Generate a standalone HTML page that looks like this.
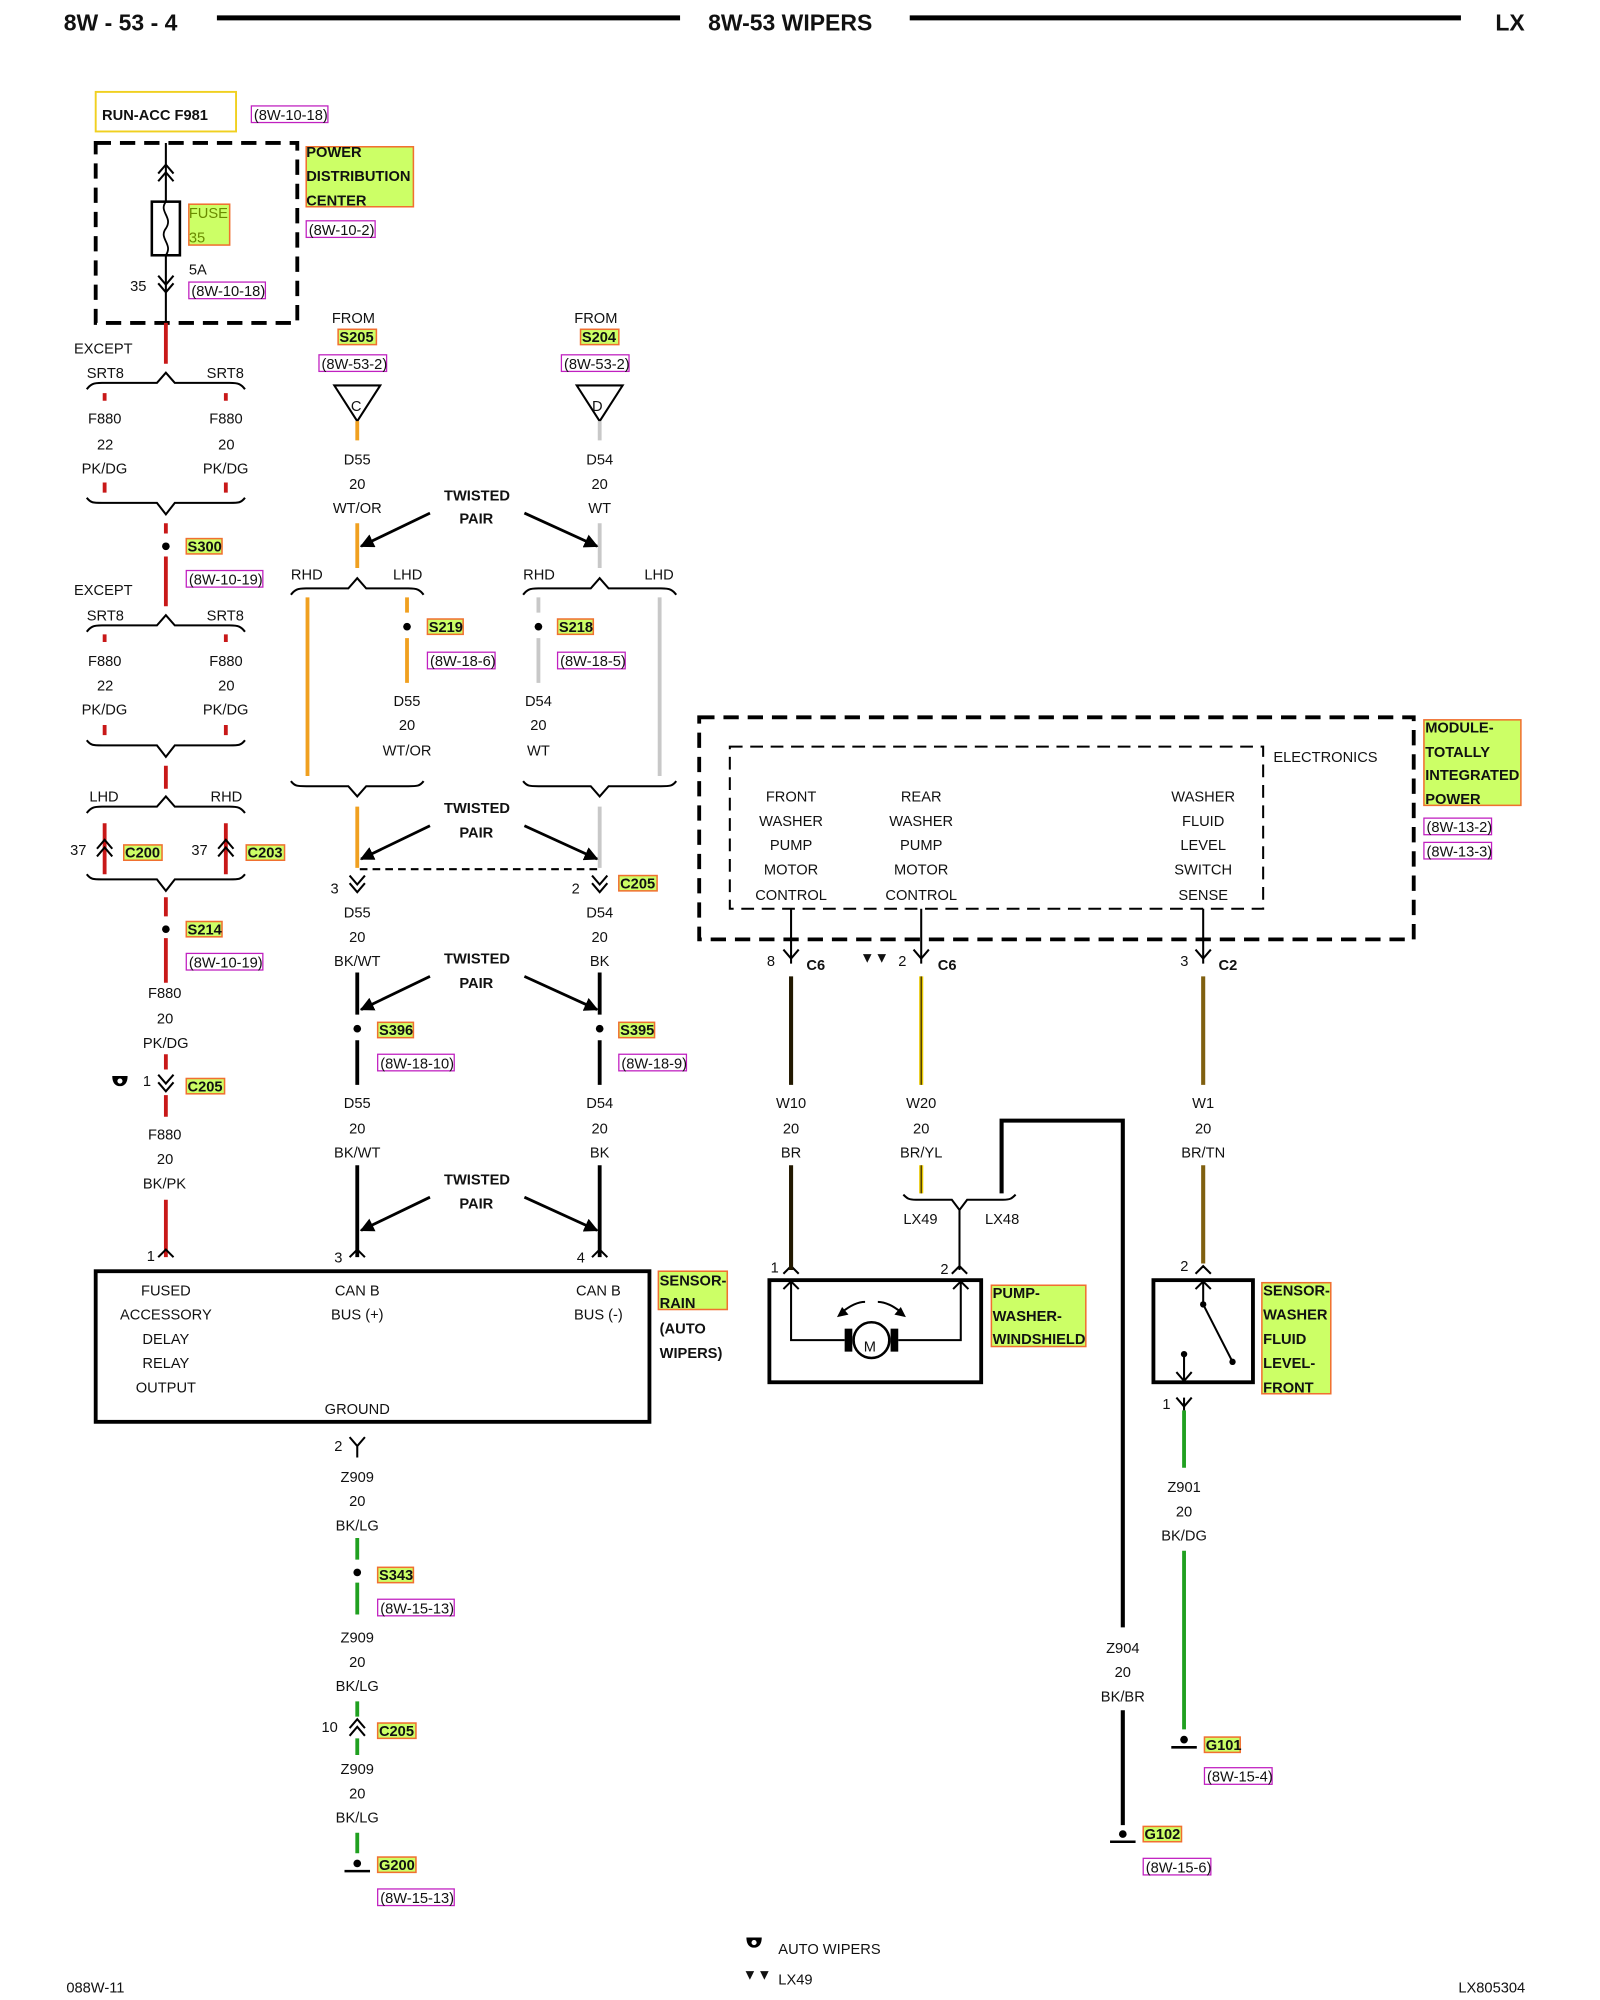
<!DOCTYPE html>
<html><head><meta charset="utf-8"><style>
html,body{margin:0;padding:0;background:#fff}
svg{display:block}
text{font-family:"Liberation Sans",sans-serif;font-size:11.5px;fill:#111}
.b{font-weight:bold}
.h{font-weight:bold;font-size:18px}
.r{font-size:11px;fill:#1a1a9a}
.k{stroke:#000;fill:none;stroke-width:1.6}
</style></head><body>
<svg width="1600" height="2000" viewBox="0 0 1254 1567" preserveAspectRatio="none" xmlns="http://www.w3.org/2000/svg">
<defs>
<marker id="ar" viewBox="0 0 10 10" refX="9" refY="5" markerWidth="5" markerHeight="5" orient="auto"><path d="M0,0L10,5L0,10z" fill="#000"/></marker>
</defs>
<text x="50" y="24" class="h">8W - 53 - 4</text>
<line x1="170" y1="14" x2="533" y2="14" stroke="#000" stroke-width="4"/>
<text x="555" y="24" class="h">8W-53 WIPERS</text>
<line x1="713" y1="14" x2="1145" y2="14" stroke="#000" stroke-width="4"/>
<text x="1172" y="24" class="h">LX</text>

<g fill="#ccff66" stroke="#f07030" stroke-width="1.2">
<rect x="148" y="160" width="32" height="32"/>
<rect x="240" y="115" width="84" height="47"/>
<rect x="265" y="258" width="30" height="12"/>
<rect x="455" y="258" width="30" height="12"/>
<rect x="146" y="422" width="28" height="12"/>
<rect x="335" y="485" width="28" height="12"/>
<rect x="437" y="485" width="28" height="12"/>
<rect x="97" y="662" width="30" height="12"/>
<rect x="193" y="662" width="30" height="12"/>
<rect x="146" y="722" width="28" height="12"/>
<rect x="485" y="686" width="30" height="12"/>
<rect x="296" y="801" width="28" height="12"/>
<rect x="485" y="801" width="28" height="12"/>
<rect x="146" y="845" width="30" height="12"/>
<rect x="516" y="996" width="54" height="30"/>
<rect x="296" y="1228" width="28" height="12"/>
<rect x="296" y="1350" width="30" height="12"/>
<rect x="296" y="1455" width="30" height="12"/>
<rect x="1116" y="564" width="76" height="67"/>
<rect x="777" y="1007" width="74" height="48"/>
<rect x="989" y="1005" width="54" height="87"/>
<rect x="944" y="1361" width="28" height="12"/>
<rect x="896" y="1431" width="30" height="12"/>
</g>
<g fill="none" stroke="#c020c0" stroke-width="1">
<rect x="197" y="83" width="60" height="13"/>
<rect x="240" y="173" width="54" height="13"/>
<rect x="148" y="221" width="60" height="13"/>
<rect x="250" y="278" width="53" height="13"/>
<rect x="440" y="278" width="53" height="13"/>
<rect x="146" y="447" width="60" height="13"/>
<rect x="335" y="511" width="53" height="13"/>
<rect x="437" y="511" width="53" height="13"/>
<rect x="146" y="747" width="60" height="13"/>
<rect x="296" y="826" width="60" height="13"/>
<rect x="485" y="826" width="53" height="13"/>
<rect x="296" y="1253" width="60" height="13"/>
<rect x="296" y="1480" width="60" height="13"/>
<rect x="1116" y="641" width="53" height="13"/>
<rect x="1116" y="660" width="53" height="13"/>
<rect x="944" y="1385" width="53" height="13"/>
<rect x="896" y="1456" width="53" height="13"/>
</g>
<g class="r">
<text x="199" y="94">(8W-10-18)</text>
<text x="242" y="184">(8W-10-2)</text>
<text x="150" y="232">(8W-10-18)</text>
<text x="252" y="289">(8W-53-2)</text>
<text x="442" y="289">(8W-53-2)</text>
<text x="148" y="458">(8W-10-19)</text>
<text x="337" y="522">(8W-18-6)</text>
<text x="439" y="522">(8W-18-5)</text>
<text x="148" y="758">(8W-10-19)</text>
<text x="298" y="837">(8W-18-10)</text>
<text x="487" y="837">(8W-18-9)</text>
<text x="298" y="1264">(8W-15-13)</text>
<text x="298" y="1491">(8W-15-13)</text>
<text x="1118" y="652">(8W-13-2)</text>
<text x="1118" y="671">(8W-13-3)</text>
<text x="946" y="1396">(8W-15-4)</text>
<text x="898" y="1467">(8W-15-6)</text>
</g>
<g class="b" font-size="11">
<text x="148" y="171" style="font-weight:normal;fill:#6a8a00">FUSE</text>
<text x="148" y="190" style="font-weight:normal;fill:#6a8a00">35</text>
<text x="240" y="123">POWER</text><text x="240" y="142">DISTRIBUTION</text><text x="240" y="161">CENTER</text>
<text x="266" y="268">S205</text><text x="456" y="268">S204</text>
<text x="147" y="432">S300</text><text x="336" y="495">S219</text><text x="438" y="495">S218</text>
<text x="98" y="672">C200</text><text x="194" y="672">C203</text><text x="147" y="732">S214</text>
<text x="486" y="696">C205</text><text x="297" y="811">S396</text><text x="486" y="811">S395</text>
<text x="147" y="855">C205</text>
<text x="517" y="1007">SENSOR-</text><text x="517" y="1025">RAIN</text>
<text x="517" y="1045">(AUTO</text><text x="517" y="1064">WIPERS)</text>
<text x="297" y="1238">S343</text><text x="297" y="1360">C205</text><text x="297" y="1465">G200</text>
<text x="1117" y="574">MODULE-</text><text x="1117" y="593">TOTALLY</text><text x="1117" y="611">INTEGRATED</text><text x="1117" y="630">POWER</text>
<text x="778" y="1017">PUMP-</text><text x="778" y="1035">WASHER-</text><text x="778" y="1053">WINDSHIELD</text>
<text x="990" y="1015">SENSOR-</text><text x="990" y="1034">WASHER</text><text x="990" y="1053">FLUID</text><text x="990" y="1072">LEVEL-</text><text x="990" y="1091">FRONT</text>
<text x="945" y="1371">G101</text><text x="897" y="1441">G102</text>
<text x="348" y="392">TWISTED</text><text x="360" y="410">PAIR</text>
<text x="348" y="637">TWISTED</text><text x="360" y="656">PAIR</text>
<text x="348" y="755">TWISTED</text><text x="360" y="774">PAIR</text>
<text x="348" y="928">TWISTED</text><text x="360" y="947">PAIR</text>
<text x="80" y="94">RUN-ACC F981</text>
</g>
<rect x="75" y="72" width="110" height="31" fill="none" stroke="#f0d020" stroke-width="1.5"/>
<rect x="75" y="112" width="158" height="141" fill="none" stroke="#000" stroke-width="3" stroke-dasharray="12,7"/>
<rect x="548" y="562" width="560" height="174" fill="none" stroke="#000" stroke-width="3" stroke-dasharray="12,7"/>
<rect x="572" y="585" width="418" height="127" fill="none" stroke="#000" stroke-width="1.6" stroke-dasharray="10,6"/>

<g stroke-width="3" fill="none">
<line x1="130" y1="112" x2="130" y2="253" stroke="#000" stroke-width="1.6"/>
<path d="M130,253V285M130,410V418M130,436V475M130,600V618M130,703V718M130,735V770M130,826V838M130,858V875M130,940V985" stroke="#c81818"/>
<path d="M82,308V314M177,308V314M82,378V386M177,378V386M82,497V503M177,497V503M82,568V576M177,568V576M82,645V685M177,645V685" stroke="#c81818"/>
</g>
<rect x="119" y="158" width="22" height="42" fill="#fff" stroke="#000" stroke-width="2"/>
<path d="M130,158c-6,8 6,12 0,21c-6,8 6,12 0,21" fill="none" stroke="#000" stroke-width="1.4"/>
<g class="k">
<path d="M124,136l6,-7l6,7M124,142l6,-7l6,7"/>
<path d="M124,216l6,7l6,-7M124,222l6,7l6,-7"/>
<path d="M68,305c3,-4 5,-5 12,-5h43l7,-8l7,8h43c7,0 9,1 12,5"/>
<path d="M68,390c3,4 5,4 12,4h43l7,9l7,-9h43c7,0 9,0 12,-4"/>
<path d="M68,495c3,-4 5,-5 12,-5h43l7,-8l7,8h43c7,0 9,1 12,5"/>
<path d="M68,580c3,4 5,4 12,4h43l7,9l7,-9h43c7,0 9,0 12,-4"/>
<path d="M68,637c3,-4 5,-5 12,-5h43l7,-8l7,8h43c7,0 9,1 12,5"/>
<path d="M68,685c3,4 5,4 12,4h43l7,9l7,-9h43c7,0 9,0 12,-4"/>
<path d="M76,665l6,-7l6,7M76,671l6,-7l6,7M171,665l6,-7l6,7M171,671l6,-7l6,7"/>
<path d="M124,842l6,7l6,-7M124,848l6,7l6,-7"/>
<path d="M124,985l6,-6l6,6"/>
</g>
<circle cx="130" cy="428" r="3" fill="#000"/><circle cx="130" cy="728" r="3" fill="#000"/>
<path d="M88,843h12c0,6 -3,8 -6,8s-6,-2 -6,-8z" fill="#000"/><circle cx="94" cy="847" r="2" fill="#fff"/>
<g>
<text x="148" y="215">5A</text><text x="102" y="228">35</text>
<text x="58" y="277">EXCEPT</text><text x="68" y="296">SRT8</text><text x="162" y="296">SRT8</text>
<text x="69" y="332">F880</text><text x="164" y="332">F880</text><text x="76" y="352">22</text><text x="171" y="352">20</text>
<text x="64" y="371">PK/DG</text><text x="159" y="371">PK/DG</text>
<text x="58" y="466">EXCEPT</text><text x="68" y="486">SRT8</text><text x="162" y="486">SRT8</text>
<text x="69" y="522">F880</text><text x="164" y="522">F880</text><text x="76" y="541">22</text><text x="171" y="541">20</text>
<text x="64" y="560">PK/DG</text><text x="159" y="560">PK/DG</text>
<text x="70" y="628">LHD</text><text x="165" y="628">RHD</text>
<text x="55" y="670">37</text><text x="150" y="670">37</text>
<text x="116" y="782">F880</text><text x="123" y="802">20</text><text x="112" y="821">PK/DG</text>
<text x="112" y="851">1</text>
<text x="116" y="893">F880</text><text x="123" y="912">20</text><text x="112" y="931">BK/PK</text>
<text x="115" y="988">1</text>
</g>

<rect x="75" y="996" width="434" height="118" fill="none" stroke="#000" stroke-width="3"/>
<g text-anchor="middle">
<text x="130" y="1015">FUSED</text><text x="130" y="1034">ACCESSORY</text><text x="130" y="1053">DELAY</text><text x="130" y="1072">RELAY</text><text x="130" y="1091">OUTPUT</text>
<text x="280" y="1015">CAN B</text><text x="280" y="1034">BUS (+)</text>
<text x="469" y="1015">CAN B</text><text x="469" y="1034">BUS (-)</text>
<text x="280" y="1108">GROUND</text>
</g>

<path d="M262,302h36l-18,28z" fill="none" stroke="#000" stroke-width="1.6"/><text x="275" y="322">C</text>
<path d="M452,302h36l-18,28z" fill="none" stroke="#000" stroke-width="1.6"/><text x="464" y="322">D</text>
<g text-anchor="middle">
<text x="277" y="253">FROM</text><text x="467" y="253">FROM</text>
<text x="280" y="364">D55</text><text x="280" y="383">20</text><text x="280" y="402">WT/OR</text>
<text x="470" y="364">D54</text><text x="470" y="383">20</text><text x="470" y="402">WT</text>
<text x="319" y="553">D55</text><text x="319" y="572">20</text><text x="319" y="592">WT/OR</text>
<text x="422" y="553">D54</text><text x="422" y="572">20</text><text x="422" y="592">WT</text>
<text x="280" y="719">D55</text><text x="280" y="738">20</text><text x="280" y="757">BK/WT</text>
<text x="470" y="719">D54</text><text x="470" y="738">20</text><text x="470" y="757">BK</text>
<text x="280" y="868">D55</text><text x="280" y="888">20</text><text x="280" y="907">BK/WT</text>
<text x="470" y="868">D54</text><text x="470" y="888">20</text><text x="470" y="907">BK</text>
</g>
<text x="228" y="454">RHD</text><text x="308" y="454">LHD</text><text x="410" y="454">RHD</text><text x="505" y="454">LHD</text>
<text x="259" y="700">3</text><text x="448" y="700">2</text><text x="262" y="989">3</text><text x="452" y="989">4</text>
<g stroke-width="3" fill="none">
<path d="M280,330V345M280,410V445M241,468V608M319,468V480M319,500V535M280,632V680" stroke="#f0a020"/>
<path d="M470,330V345M470,410V445M517,468V608M422,468V480M422,500V535M470,632V680" stroke="#c8c8c8"/>
<path d="M280,762V795M280,815V850M280,913V985M470,762V795M470,815V850M470,913V985" stroke="#000"/>
</g>
<g class="k">
<path d="M228,466c3,-4 5,-5 12,-5h33l7,-8l7,8h33c7,0 9,1 12,5"/>
<path d="M410,466c3,-4 5,-5 12,-5h41l7,-8l7,8h41c7,0 9,1 12,5"/>
<path d="M228,612c3,4 5,4 12,4h33l7,8l7,-8h33c7,0 9,0 12,-4"/>
<path d="M410,612c3,4 5,4 12,4h41l7,8l7,-8h41c7,0 9,0 12,-4"/>
<path d="M282,681H470" stroke-dasharray="6,4"/>
<path d="M274,686l6,7l6,-7M274,692l6,7l6,-7M464,686l6,7l6,-7M464,692l6,7l6,-7"/>
<path d="M274,985l6,-6l6,6M464,985l6,-6l6,6"/>
</g>
<g stroke="#000" stroke-width="2.2" marker-end="url(#ar)">
<line x1="337" y1="402" x2="283" y2="428"/><line x1="411" y1="402" x2="468" y2="428"/>
<line x1="337" y1="647" x2="283" y2="673"/><line x1="411" y1="647" x2="468" y2="673"/>
<line x1="337" y1="765" x2="283" y2="791"/><line x1="411" y1="765" x2="468" y2="791"/>
<line x1="337" y1="938" x2="283" y2="964"/><line x1="411" y1="938" x2="468" y2="964"/>
</g>
<circle cx="319" cy="491" r="3" fill="#000"/><circle cx="422" cy="491" r="3" fill="#000"/>
<circle cx="280" cy="806" r="3" fill="#000"/><circle cx="470" cy="806" r="3" fill="#000"/>

<g class="k"><path d="M274,1126l6,7l6,-7M280,1133V1142M274,1354l6,-7l6,7M274,1360l6,-7l6,7"/></g>
<g stroke="#20a020" stroke-width="3"><path d="M280,1205V1222M280,1240V1265M280,1333V1345M280,1362V1375M280,1436V1452M928,1105V1150M928,1215V1355"/></g>
<circle cx="280" cy="1232" r="3" fill="#000"/>
<circle cx="280" cy="1460" r="3" fill="#000"/><line x1="270" y1="1466" x2="290" y2="1466" stroke="#000" stroke-width="2"/>
<g text-anchor="middle">
<text x="280" y="1161">Z909</text><text x="280" y="1180">20</text><text x="280" y="1199">BK/LG</text>
<text x="280" y="1287">Z909</text><text x="280" y="1306">20</text><text x="280" y="1325">BK/LG</text>
<text x="280" y="1390">Z909</text><text x="280" y="1409">20</text><text x="280" y="1428">BK/LG</text>
</g>
<text x="262" y="1137">2</text><text x="252" y="1357">10</text>

<text x="998" y="597">ELECTRONICS</text>
<g text-anchor="middle">
<text x="620" y="628">FRONT</text><text x="620" y="647">WASHER</text><text x="620" y="666">PUMP</text><text x="620" y="685">MOTOR</text><text x="620" y="705">CONTROL</text>
<text x="722" y="628">REAR</text><text x="722" y="647">WASHER</text><text x="722" y="666">PUMP</text><text x="722" y="685">MOTOR</text><text x="722" y="705">CONTROL</text>
<text x="943" y="628">WASHER</text><text x="943" y="647">FLUID</text><text x="943" y="666">LEVEL</text><text x="943" y="685">SWITCH</text><text x="943" y="705">SENSE</text>
<text x="620" y="868">W10</text><text x="620" y="888">20</text><text x="620" y="907">BR</text>
<text x="722" y="868">W20</text><text x="722" y="888">20</text><text x="722" y="907">BR/YL</text>
<text x="943" y="868">W1</text><text x="943" y="888">20</text><text x="943" y="907">BR/TN</text>
<text x="880" y="1295">Z904</text><text x="880" y="1314">20</text><text x="880" y="1333">BK/BR</text>
<text x="928" y="1169">Z901</text><text x="928" y="1188">20</text><text x="928" y="1207">BK/DG</text>
</g>
<g class="k">
<path d="M620,712V755M722,712V755M943,712V755"/>
<path d="M614,744l6,7l6,-7M716,744l6,7l6,-7M937,744l6,7l6,-7"/>
<path d="M614,998l6,-6l6,6M746,998l6,-6l6,6M937,998l6,-6l6,6M922,1095l6,7l6,-7M928,1095V1105"/>
<path d="M708,936c3,3 4,4 10,4h28l6,8l6,-8h28c6,0 7,-1 10,-4M752,948V995"/>
</g>
<text x="601" y="757">8</text><text x="632" y="760" class="b" font-size="10">C6</text>
<text x="674" y="754" font-size="10">▼▼</text><text x="704" y="757">2</text><text x="735" y="760" class="b" font-size="10">C6</text>
<text x="925" y="757">3</text><text x="955" y="760" class="b" font-size="10">C2</text>
<text x="708" y="959">LX49</text><text x="772" y="959">LX48</text>
<text x="604" y="997">1</text><text x="737" y="998">2</text><text x="925" y="996">2</text><text x="911" y="1104">1</text>
<g stroke-width="3.2" fill="none">
<path d="M620,765V850M620,913V995" stroke="#221800"/>
<path d="M722,765V850M722,913V935" stroke="#e8c800"/>
<path d="M722,765V850M722,913V935" stroke="#3a2a00" stroke-width="1"/>
<path d="M943,765V850M943,913V990" stroke="#806010"/>
<path d="M785,935V878H880V1275M880,1340V1430" stroke="#000"/>
</g>
<circle cx="880" cy="1437" r="3" fill="#000"/><line x1="870" y1="1443" x2="890" y2="1443" stroke="#000" stroke-width="2"/>
<circle cx="928" cy="1363" r="3" fill="#000"/><line x1="918" y1="1369" x2="938" y2="1369" stroke="#000" stroke-width="2"/>

<rect x="603" y="1003" width="166" height="80" fill="none" stroke="#000" stroke-width="3"/>
<g class="k">
<path d="M620,1003V1050H662M704,1050H753V1003M614,1010l6,-6l6,6M747,1010l6,-6l6,6"/>
<path d="M660,1028q10,-8 18,-8M688,1020q8,0 18,8"/>
</g>
<circle cx="683" cy="1050" r="14" fill="#fff" stroke="#000" stroke-width="2"/>
<rect x="662" y="1041" width="6" height="18" fill="#000"/><rect x="698" y="1041" width="6" height="18" fill="#000"/>
<text x="677" y="1059" font-size="10">M</text>
<path d="M656,1032l4,-8l5,6zM710,1032l-4,-8l-5,6z" fill="#000"/>
<rect x="904" y="1003" width="78" height="80" fill="none" stroke="#000" stroke-width="3"/>
<g class="k"><path d="M943,1003V1022L966,1067M937,1010l6,-6l6,6M928,1061V1082M922,1075l6,7l6,-7"/></g>
<circle cx="943" cy="1022" r="2.5" fill="#000"/><circle cx="966" cy="1067" r="2.5" fill="#000"/><circle cx="928" cy="1061" r="2.5" fill="#000"/>

<path d="M585,1518h12c0,6 -3,8 -6,8s-6,-2 -6,-8z" fill="#000"/><circle cx="591" cy="1522" r="2" fill="#fff"/>
<text x="610" y="1531">AUTO WIPERS</text>
<text x="582" y="1551" font-size="10">▼▼</text><text x="610" y="1555">LX49</text>
<text x="52" y="1561" font-size="10">088W-11</text>
<text x="1143" y="1561" font-size="10">LX805304</text>
</svg>
</body></html>
